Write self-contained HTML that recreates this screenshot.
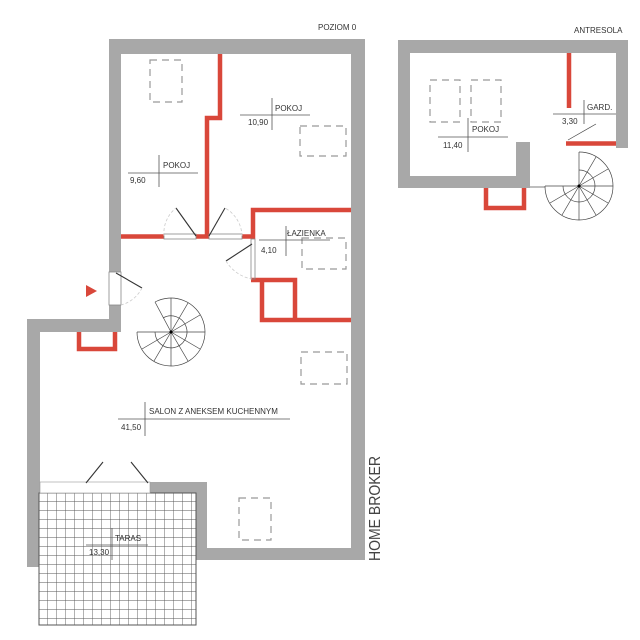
<!DOCTYPE html>
<html><head><meta charset="utf-8"><style>
html,body{margin:0;padding:0;background:#fff;width:640px;height:640px;overflow:hidden}
svg{display:block}
text{font-family:"Liberation Sans",sans-serif;fill:#333}
</style></head><body>
<svg width="640" height="640" viewBox="0 0 640 640" xmlns="http://www.w3.org/2000/svg">
<defs>
<pattern id="grid" x="39" y="493" width="9" height="9" patternUnits="userSpaceOnUse">
<path d="M9 0V9M0 9H9" stroke="#555" stroke-width="0.9" fill="none"/>
</pattern>
</defs>
<g fill="#a8a8a8">
<rect x="109" y="39" width="256" height="15"/>
<rect x="109" y="39" width="12" height="233"/>
<rect x="109" y="305" width="12" height="27"/>
<rect x="27" y="319" width="94" height="13"/>
<rect x="27" y="319" width="13" height="248"/>
<rect x="351" y="39" width="14" height="521"/>
<rect x="150" y="482" width="57" height="78"/>
<rect x="195" y="548" width="170" height="12"/>
<rect x="398" y="40" width="230" height="13"/>
<rect x="398" y="40" width="12" height="148"/>
<rect x="398" y="176" width="132" height="12"/>
<rect x="616" y="40" width="12" height="108"/>
<rect x="516" y="142" width="14" height="46"/>
</g>
<rect x="39" y="493" width="157" height="132" fill="#fff"/>
<rect x="39" y="493" width="157" height="132" fill="url(#grid)" stroke="#555" stroke-width="1"/>
<rect x="40" y="482" width="110" height="11" fill="#fff" stroke="#999" stroke-width="0.6"/>
<g fill="none" stroke="#d9473a" stroke-width="4.5">
<polyline points="220,54 220,118 207,118 207,237"/>
<line x1="121" y1="236.5" x2="164" y2="236.5"/>
<line x1="196" y1="236.5" x2="209" y2="236.5"/>
<line x1="242" y1="236.5" x2="254" y2="236.5"/>
<polyline points="351,210 253,210 253,239"/>
<polyline points="251,280 295,280 295,320"/>
<polyline points="262,280 262,320 351,320"/>
<polyline points="79,332 79,349 115,349 115,332"/>
<line x1="569" y1="53" x2="569" y2="108"/>
<line x1="566" y1="143.5" x2="616" y2="143.5"/>
<polyline points="486,188 486,208 524,208 524,188"/>
</g>
<g stroke="#888" stroke-width="0.8" fill="none">
<rect x="164" y="234" width="32" height="5"/>
<rect x="209" y="234" width="33" height="5"/>
<rect x="251" y="239" width="4" height="40"/>
<rect x="109" y="272" width="12" height="33"/>
</g>
<g stroke="#333" stroke-width="1.1">
<line x1="176" y1="208" x2="196" y2="236"/>
<line x1="225" y1="208" x2="209" y2="236"/>
<line x1="252" y1="244" x2="226" y2="261"/>
<line x1="116" y1="273" x2="142" y2="288"/>
<line x1="103" y1="462" x2="86" y2="483"/>
<line x1="131" y1="462" x2="148" y2="483"/>
</g>
<g stroke="#ccc" stroke-width="0.8" fill="none" stroke-dasharray="3,2">
<path d="M164 236 A32 32 0 0 1 176 208"/>
<path d="M242 236 A33 33 0 0 0 225 208"/>
<path d="M226 261 A38 38 0 0 0 252 279"/>
<path d="M142 288 A33 33 0 0 1 121 305"/>
</g>
<polygon points="86,285 86,297 97,291" fill="#d9473a"/>
<g stroke="#444" stroke-width="0.7" fill="none">
<path d="M155 302 A34 34 0 1 1 137 332"/>
<path d="M163 318 A16 16 0 1 1 155 332"/>
<line x1="171" y1="332" x2="155" y2="302"/><line x1="171" y1="332" x2="171" y2="298"/><line x1="171" y1="332" x2="188" y2="303"/>
<line x1="171" y1="332" x2="200" y2="315"/><line x1="171" y1="332" x2="205" y2="332"/>
<line x1="171" y1="332" x2="200" y2="349"/><line x1="171" y1="332" x2="188" y2="361"/>
<line x1="171" y1="332" x2="171" y2="366"/><line x1="171" y1="332" x2="154" y2="361"/>
<line x1="171" y1="332" x2="142" y2="349"/><line x1="171" y1="332" x2="137" y2="332"/>
<path d="M579 152 A34 34 0 1 1 545 186"/>
<path d="M579 170 A16 16 0 1 1 563 186"/>
<line x1="579" y1="186" x2="579" y2="152"/><line x1="579" y1="186" x2="596" y2="157"/>
<line x1="579" y1="186" x2="608" y2="169"/><line x1="579" y1="186" x2="613" y2="186"/>
<line x1="579" y1="186" x2="608" y2="203"/><line x1="579" y1="186" x2="596" y2="215"/>
<line x1="579" y1="186" x2="579" y2="220"/><line x1="579" y1="186" x2="562" y2="215"/>
<line x1="579" y1="186" x2="550" y2="203"/><line x1="579" y1="186" x2="545" y2="186"/>
<line x1="530" y1="187" x2="545" y2="187"/>
<line x1="568" y1="140" x2="596" y2="124"/>
</g>
<circle cx="171" cy="332" r="1.5" fill="#000"/>
<circle cx="579" cy="186" r="1.5" fill="#000"/>
<g stroke="#999" stroke-width="1.2" fill="none" stroke-dasharray="7,5">
<rect x="150" y="60" width="32" height="42"/>
<rect x="300" y="126" width="46" height="30"/>
<rect x="302" y="238" width="44" height="31"/>
<rect x="301" y="352" width="46" height="32"/>
<rect x="239" y="498" width="32" height="42"/>
<rect x="430" y="80" width="30" height="42"/>
<rect x="471" y="80" width="30" height="42"/>
</g>
<g stroke="#555" stroke-width="0.8">
<line x1="128" y1="173" x2="198" y2="173"/><line x1="159" y1="155" x2="159" y2="187"/>
<line x1="240" y1="115" x2="310" y2="115"/><line x1="272" y1="98" x2="272" y2="130"/>
<line x1="259" y1="240" x2="330" y2="240"/><line x1="286" y1="226" x2="286" y2="256"/>
<line x1="118" y1="419" x2="290" y2="419"/><line x1="145" y1="402" x2="145" y2="436"/>
<line x1="86" y1="545" x2="148" y2="545"/><line x1="112" y1="528" x2="112" y2="560"/>
<line x1="438" y1="137" x2="508" y2="137"/><line x1="468" y1="118" x2="468" y2="152"/>
<line x1="553" y1="114" x2="616" y2="114"/><line x1="584" y1="100" x2="584" y2="124"/>
</g>
<g font-size="8">
<text x="163" y="168">POKOJ</text><text x="130" y="183">9,60</text>
<text x="275" y="111">POKOJ</text><text x="248" y="125">10,90</text>
<text x="287" y="236">ŁAZIENKA</text><text x="261" y="253">4,10</text>
<text x="149" y="414">SALON Z ANEKSEM KUCHENNYM</text><text x="121" y="430">41,50</text>
<text x="115" y="541">TARAS</text><text x="89" y="555">13,30</text>
<text x="472" y="132">POKOJ</text><text x="443" y="148">11,40</text>
<text x="587" y="110">GARD.</text><text x="562" y="124">3,30</text>
<text x="318" y="30">POZIOM 0</text><text x="574" y="33">ANTRESOLA</text>
</g>
<text x="0" y="0" font-size="16" textLength="105" lengthAdjust="spacingAndGlyphs" transform="translate(380,561) rotate(-90)" style="fill:#444">HOME BROKER</text>
</svg>
</body></html>
